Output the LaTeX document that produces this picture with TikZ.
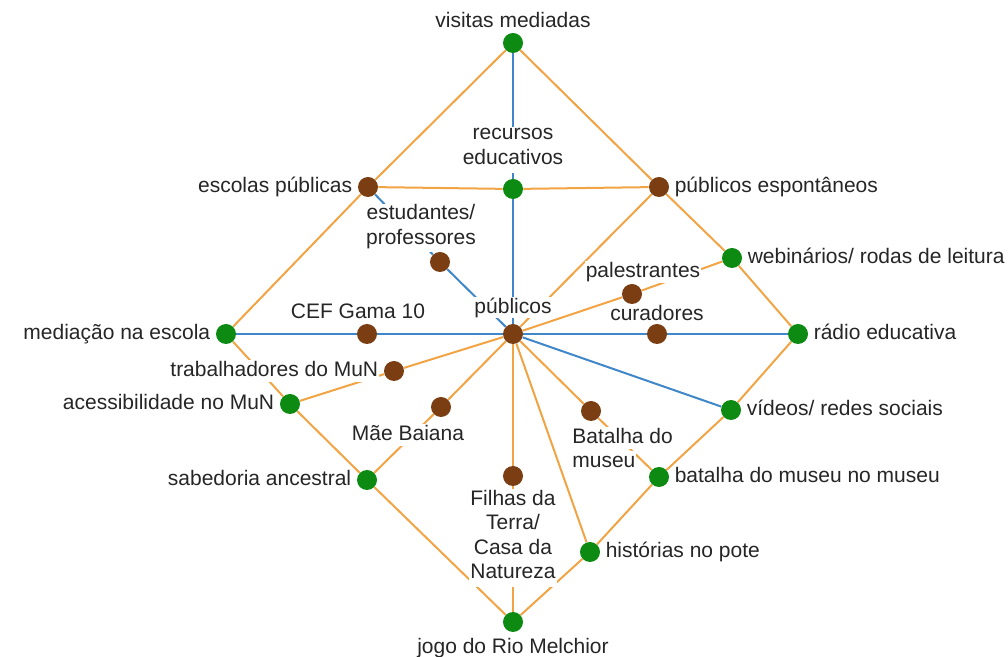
\documentclass[tikz,border=0pt]{standalone}
\usepackage{fontspec}
\setmainfont{Liberation Sans}
\definecolor{mapOrange}{HTML}{F2A444}
\definecolor{mapBlue}{HTML}{3F87C8}
\definecolor{mapGreen}{HTML}{0C8A12}
\definecolor{mapBrown}{HTML}{7A3E12}
\definecolor{mapText}{HTML}{262626}
\usetikzlibrary{positioning, backgrounds}
\pgfdeclarelayer{frente}
\pgfsetlayers{background,main,frente}

\begin{document}
\begin{tikzpicture}[x=0.5pt, y=-0.5pt, node distance=2pt,
  acao/.style={circle, fill=mapGreen, inner sep=0pt, minimum size=10pt},
  ator/.style={circle, fill=mapBrown, inner sep=0pt, minimum size=10pt},
  rotulo/.style={fill=white, inner sep=0.5pt, text=mapText,
    font=\fontsize{10.5}{12.2}\selectfont, text height=7.8pt, text depth=2pt},
  bloco/.style={fill=white, inner sep=0.5pt, text=mapText, align=center,
    font=\fontsize{10.5}{12.2}\selectfont,
    execute at begin node=\strut, execute at end node=\strut},
  laranja/.style={draw=mapOrange, line width=1pt},
  azul/.style={draw=mapBlue, line width=1pt}]
  \useasboundingbox (0,0) rectangle (1008,657);

  % pontos
  \begin{pgfonlayer}{frente}
    \node[acao] (vm) at (513,43) {};
    \node[acao] (re) at (513,189) {};
    \node[ator] (ep) at (368,187) {};
    \node[ator] (pe) at (659,187) {};
    \node[acao] (wr) at (732,258) {};
    \node[ator] (es) at (440,262) {};
    \node[ator] (pa) at (632,294) {};
    \node[ator] (pu) at (513,334) {};
    \node[ator] (cef) at (367,334) {};
    \node[ator] (cu) at (657,334) {};
    \node[acao] (me) at (226,334) {};
    \node[acao] (ra) at (798,334) {};
    \node[ator] (tr) at (394,371) {};
    \node[acao] (ac) at (290,404) {};
    \node[ator] (mb) at (441,407) {};
    \node[ator] (bm) at (591,411) {};
    \node[acao] (vr) at (731,410) {};
    \node[ator] (ft) at (513,476) {};
    \node[acao] (sa) at (367,480) {};
    \node[acao] (bmm) at (659,477) {};
    \node[acao] (hp) at (590,552) {};
    \node[acao] (jr) at (513,622) {};
  \end{pgfonlayer}

  % rotulos
  \node[rotulo, above=0pt of vm] (vm-l) {visitas mediadas};
  \node[bloco] (re-l) at (513,150) {recursos\\educativos};
  \node[rotulo, left=of ep] (ep-l) {escolas públicas};
  \node[rotulo, right=of pe] (pe-l) {públicos espontâneos};
  \node[rotulo, right=of wr] (wr-l) {webinários/ rodas de leitura};
  \node[bloco] (es-l) at (421,228) {estudantes/\\professores};
  \node[rotulo] (pa-l) at (643,272) {palestrantes};
  \node[rotulo, above=2.5pt of pu] (pu-l) {públicos};
  \node[rotulo] (cef-l) at (358,313) {CEF Gama 10};
  \node[rotulo, above=-1pt of cu] (cu-l) {curadores};
  \node[rotulo, left=of me] (me-l) {mediação na escola};
  \node[rotulo, right=of ra] (ra-l) {rádio educativa};
  \node[rotulo, left=of tr] (tr-l) {trabalhadores do MuN};
  \node[rotulo, left=of ac] (ac-l) {acessibilidade no MuN};
  \node[rotulo] (mb-l) at (408,435) {Mãe Baiana};
  \node[rotulo, anchor=west] (bm-l) at (571,438) {Batalha do};
  \node[rotulo, anchor=west] (bm-l2) at (571,462) {museu};
  \node[rotulo, right=of vr] (vr-l) {vídeos/ redes sociais};
  \node[bloco] (ft-l) at (513,538) {Filhas da\\Terra/\\Casa da\\Natureza};
  \node[rotulo, left=of sa] (sa-l) {sabedoria ancestral};
  \node[rotulo, right=of bmm] (bmm-l) {batalha do museu no museu};
  \node[rotulo, right=of hp] (hp-l) {histórias no pote};
  \node[rotulo, below=of jr] (jr-l) {jogo do Rio Melchior};

  % ligacoes
  \begin{scope}[on background layer]
    \draw[laranja] (vm) -- (ep) -- (me) -- (ac) -- (sa) -- (jr);
    \draw[laranja] (vm) -- (pe) -- (wr) -- (ra) -- (vr) -- (bmm) -- (hp) -- (jr);
    \draw[laranja] (ep) -- (re) -- (pe);
    \draw[laranja] (pu) -- (pe);
    \draw[laranja] (pu) -- (pa) -- (wr);
    \draw[laranja] (pu) -- (tr) -- (ac);
    \draw[laranja] (pu) -- (mb) -- (sa);
    \draw[laranja] (pu) -- (ft) -- (jr);
    \draw[laranja] (pu) -- (hp);
    \draw[laranja] (pu) -- (bm) -- (bmm);
    \draw[azul] (vm) -- (re) -- (pu);
    \draw[azul] (me) -- (cef) -- (pu) -- (cu) -- (ra);
    \draw[azul] (ep) -- (es) -- (pu);
    \draw[azul] (pu) -- (vr);
  \end{scope}
\end{tikzpicture}
\end{document}
